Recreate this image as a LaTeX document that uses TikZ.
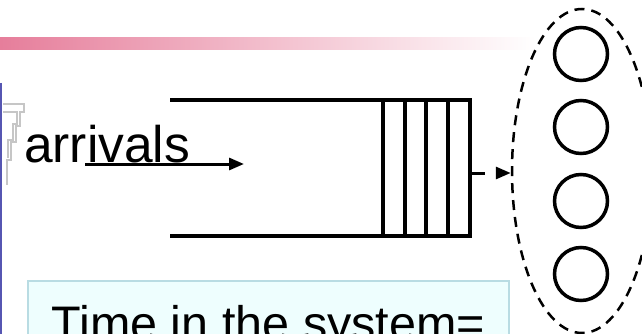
\documentclass[tikz,border=0pt]{standalone}
\usepackage{fontspec}
\setmainfont{Liberation Sans}
\usetikzlibrary{arrows.meta,shapes.geometric}

\definecolor{barpink}{HTML}{E67E9B}
\definecolor{sidebar}{HTML}{5656B2}
\definecolor{boxfill}{HTML}{EEFEFE}
\definecolor{boxline}{HTML}{B9DCE3}

\tikzset{
  bigtext/.style={font=\fontsize{51.5}{60}\selectfont,inner sep=0pt},
  qline/.style={line width=4pt},
  server/.style={circle,draw,line width=3.5pt,minimum size=53pt,inner sep=0pt},
  pool/.style={ellipse,draw,dashed,dash pattern=on 10pt off 7pt,line width=2.5pt,
    minimum width=140pt,minimum height=324pt,inner sep=0pt},
  infobox/.style={draw=boxline,fill=boxfill,line width=1.5pt,anchor=north west,
    font=\fontsize{48.5}{58}\selectfont,inner xsep=21pt,inner ysep=25pt,
    minimum width=481pt,align=left},
}

\begin{document}
\begin{tikzpicture}[x=1pt,y=-1pt]
    \useasboundingbox (0,0) rectangle (642,334);
    \clip (0,0) rectangle (642,334);
    %% Header bar
    \shade[left color=barpink,right color=white] (0,38) rectangle (536,50);
    %% Side rule and clipart
    \draw[sidebar,line width=2pt] (1,83) -- (1,334);
    \draw[gray!45,line width=1.5pt] (3,104) -- (24,104) -- (24,112) -- (20,112)
        -- (20,126) -- (16,126) -- (16,142) -- (11,142) -- (11,160) -- (7,160) -- (7,185);
    \draw[gray!45,line width=1.5pt] (3,112) -- (17,112) -- (17,124) -- (13,124)
        -- (13,140) -- (8,140) -- (8,158);
    %% Queue
    \draw[qline] (170,100) -- (470,100) -- (470,236) -- (170,236);
    \foreach \x in {383,405,426,448}
        \draw[qline] (\x,100) -- (\x,236);
    \coordinate (qout) at (470,173);
    %% Arrivals
    \node[bigtext,anchor=base west] (arr) at (24,162) {arrivals};
    \coordinate (arrin) at (85,164);
    \coordinate (arrend) at (244,164);
    \draw[line width=3pt,-{Triangle[length=15pt,width=12pt]}] (arrin) -- (arrend);
    %% Servers
    \node[pool] (pool) at (582,171) {};
    \foreach \y [count=\i] in {54,127,201,274}
        \node[server] (s\i) at (581,\y) {};
    \draw[line width=3pt,dash pattern=on 15pt off 12pt,
        -{Triangle[length=15pt,width=12pt]}] (qout) -- (pool.west |- qout);
    %% Time in system
    \node[infobox] (sys) at (27,280) {Time in the system=};
\end{tikzpicture}
\end{document}
